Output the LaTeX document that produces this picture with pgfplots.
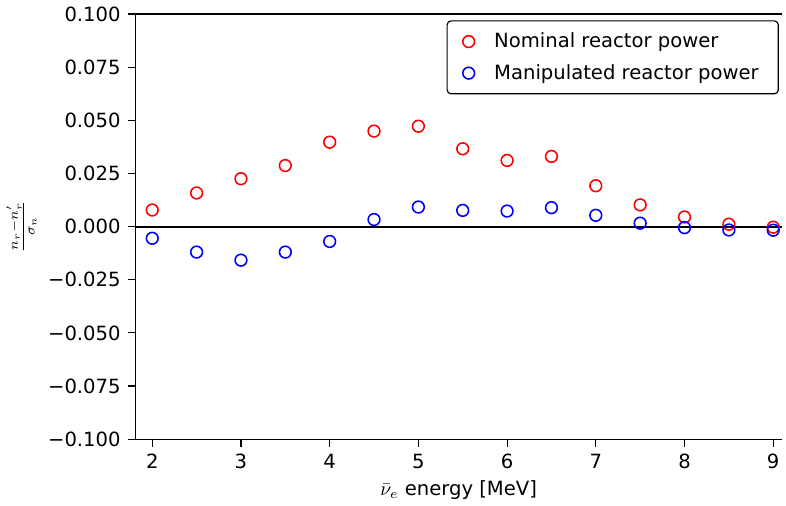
\documentclass[border=0pt]{standalone}
\usepackage{pgfplots}
\pgfplotsset{compat=1.18}
\usepackage{fontspec}
\setmainfont{DejaVu Sans}
\setsansfont{DejaVu Sans}

\definecolor{nomred}{RGB}{255,0,0}
\definecolor{manblue}{RGB}{0,0,255}

\begin{document}
\begin{tikzpicture}
\begin{axis}[
  scale only axis,
  width=330pt, height=217pt,
  xmin=1.81, xmax=9.1,
  ymin=-0.1, ymax=0.1,
  axis y line*=left,
  axis x line*=box,
  xtick={2,3,4,5,6,7,8,9},
  ytick={-0.1,-0.075,-0.05,-0.025,0,0.025,0.05,0.075,0.1},
  yticklabels={−0.100,−0.075,−0.050,−0.025,0.000,0.025,0.050,0.075,0.100},
  /pgf/number format/assume math mode=true,
  tick align=outside,
  xtick pos=bottom,
  ytick pos=left,
  major tick length=4pt,
  tick style={black, line width=0.6pt},
  axis line style={line width=0.6pt},
  ticklabel style={font=\fontsize{10}{12}\selectfont},
  xlabel={$\bar{\nu}_e$ energy [MeV]},
  xlabel style={font=\fontsize{10}{12}\selectfont, yshift=1pt},
  ylabel={$\frac{n_r - n_r^\prime}{\sigma_n}$},
  ylabel style={font=\fontsize{10}{12}\selectfont, yshift=-1pt},
  legend style={at={(0.995,0.985)}, anchor=north east, draw=black,
    rounded corners=2pt, line width=0.6pt, font=\fontsize{10}{12}\selectfont,
    row sep=3pt, inner xsep=8pt, inner ysep=4pt,
    /tikz/every odd column/.append style={column sep=8pt}},
  legend cell align=left,
  clip=false,
]
\addplot[only marks, mark=o, mark size=3pt, color=nomred, line width=0.8pt]
coordinates {
(2,0.0078) (2.5,0.0158) (3,0.0225) (3.5,0.0287) (4,0.0397) (4.5,0.0449)
(5,0.0472) (5.5,0.0366) (6,0.0311) (6.5,0.0330) (7,0.0192) (7.5,0.0102)
(8,0.0045) (8.5,0.0011) (9,-0.0003)
};
\addlegendentry{Nominal reactor power}
\addplot[only marks, mark=o, mark size=3pt, color=manblue, line width=0.8pt]
coordinates {
(2,-0.0055) (2.5,-0.0120) (3,-0.0158) (3.5,-0.0120) (4,-0.0070) (4.5,0.0033)
(5,0.0092) (5.5,0.0076) (6,0.0073) (6.5,0.0089) (7,0.0053) (7.5,0.0016)
(8,-0.0005) (8.5,-0.0016) (9,-0.0017)
};
\addlegendentry{Manipulated reactor power}
\addplot[black, line width=1pt, forget plot] coordinates {(1.81,0) (9.1,0)};
\end{axis}
\end{tikzpicture}
\end{document}
